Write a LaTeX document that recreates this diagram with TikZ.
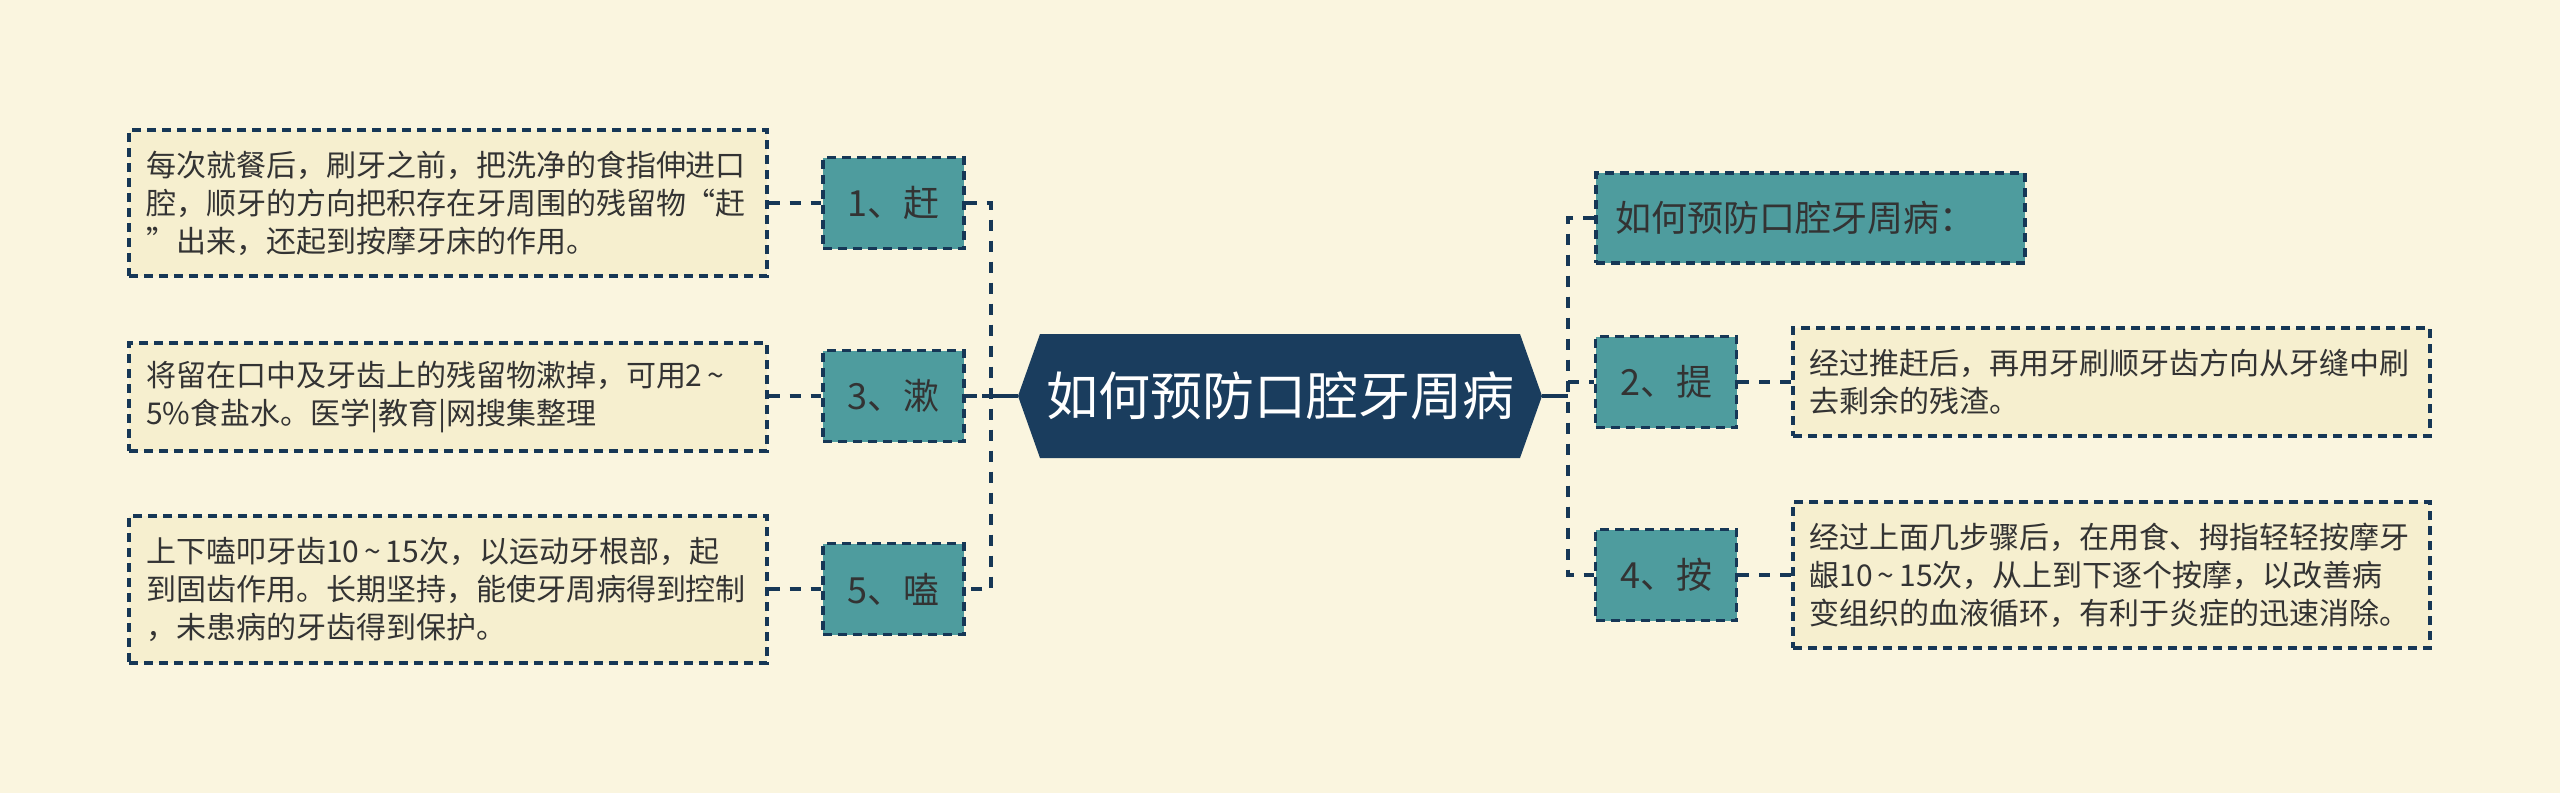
\documentclass[tikz,border=0pt]{standalone}
\usepackage{fontspec}
\newfontfamily\cjk{Noto Sans CJK SC}
\usetikzlibrary{calc}
\definecolor{bgc}{RGB}{250,245,223}
\definecolor{boxfill}{RGB}{246,239,207}
\definecolor{tealc}{RGB}{78,156,158}
\definecolor{hexc}{RGB}{26,61,94}
\definecolor{linec}{RGB}{22,55,86}
\definecolor{txt}{RGB}{51,51,51}
\newcommand{\tl}{\,\textasciitilde\,}
\tikzset{
  dashline/.style={draw=linec, line width=3.2pt, dash pattern=on 9pt off 6pt},
  conn/.style={draw=linec, line width=4.5pt, dash pattern=on 11pt off 10pt},
  solidconn/.style={draw=linec, line width=4pt},
  numbox/.style={dashline, fill=tealc, rectangle, inner sep=0pt, minimum width=141pt, minimum height=91pt, text=txt, font=\cjk\fontsize{36}{40}\selectfont},
  titlebox/.style={dashline, fill=tealc, rectangle, inner sep=0pt, minimum width=429pt, minimum height=90pt, text=txt, font=\cjk\fontsize{36}{40}\selectfont},
  descbox/.style={dashline, fill=boxfill, rectangle, inner sep=0pt, minimum width=638pt, text width=604pt, align=left, text=txt, font=\cjk\fontsize{30}{38}\selectfont},
  hexnode/.style={rectangle, inner sep=0pt, minimum width=524pt, minimum height=124pt, text=white, font=\cjk\fontsize{52}{60}\selectfont,
    path picture={\fill[hexc] (path picture bounding box.west) -- ([xshift=22pt]path picture bounding box.north west) -- ([xshift=-22pt]path picture bounding box.north east) -- (path picture bounding box.east) -- ([xshift=-22pt]path picture bounding box.south east) -- ([xshift=22pt]path picture bounding box.south west) -- cycle;}},
}
\begin{document}
\begin{tikzpicture}[x=1pt,y=-1pt]
\fill[bgc] (0,0) rectangle (2560,793);
\useasboundingbox (0,0) rectangle (2560,793);

% center
\node[hexnode] (c) at (1280,396) {如何预防口腔牙周病};

% left number nodes
\node[numbox] (n1) at (893.5,203) {1、赶};
\node[numbox] (n3) at (893.5,396) {3、漱};
\node[numbox] (n5) at (893.5,589) {5、嗑};

% right nodes
\node[titlebox, text width=391pt, align=left] (t) at (1810.5,218) {如何预防口腔牙周病：};
\node[numbox] (n2) at (1666,382) {2、提};
\node[numbox] (n4) at (1666,575) {4、按};

% description boxes
\node[descbox, minimum height=146pt] (b1) at (448,203) {每次就餐后，刷牙之前，把洗净的食指伸进口\\腔，顺牙的方向把积存在牙周围的残留物“赶\\”出来，还起到按摩牙床的作用。};
\node[descbox, minimum height=108pt] (b3) at (448,397) {将留在口中及牙齿上的残留物漱掉，可用2\tl\\5\%食盐水。医学|教育|网搜集整理};
\node[descbox, minimum height=147pt] (b5) at (448,589.5) {上下嗑叩牙齿10\tl 15次，以运动牙根部，起\\到固齿作用。长期坚持，能使牙周病得到控制\\，未患病的牙齿得到保护。};
\node[descbox, minimum width=637pt, minimum height=108pt] (b2) at (2111.5,382) {经过推赶后，再用牙刷顺牙齿方向从牙缝中刷\\去剩余的残渣。};
\node[descbox, minimum width=637pt, minimum height=146pt] (b4) at (2111.5,575) {经过上面几步骤后，在用食、拇指轻轻按摩牙\\龈10\tl 15次，从上到下逐个按摩，以改善病\\变组织的血液循环，有利于炎症的迅速消除。};

% bus coordinates
\coordinate (lbus) at (991,396);
\coordinate (lsolid) at (982,396);
\coordinate (rbus) at (1568,396);

% left connectors
\draw[conn] (n1.east) -| (lbus) |- (n5.east);
\draw[conn] (n3.east) -- (lbus);
\draw[solidconn] (c.west) -- (lsolid);
\draw[conn] (b1.east) -- (n1.west);
\draw[conn] (b3.east |- n3.west) -- (n3.west);
\draw[conn] (b5.east |- n5.west) -- (n5.west);

% right connectors
\draw[solidconn] (c.east) -- (rbus);
\draw[conn] (t.west) -| (rbus) |- (n4.west);
\draw[conn] (n2.west -| rbus) -- (n2.west);
\draw[conn] (n2.east) -- (b2.west |- n2.east);
\draw[conn] (n4.east) -- (b4.west |- n4.east);
\end{tikzpicture}
\end{document}
